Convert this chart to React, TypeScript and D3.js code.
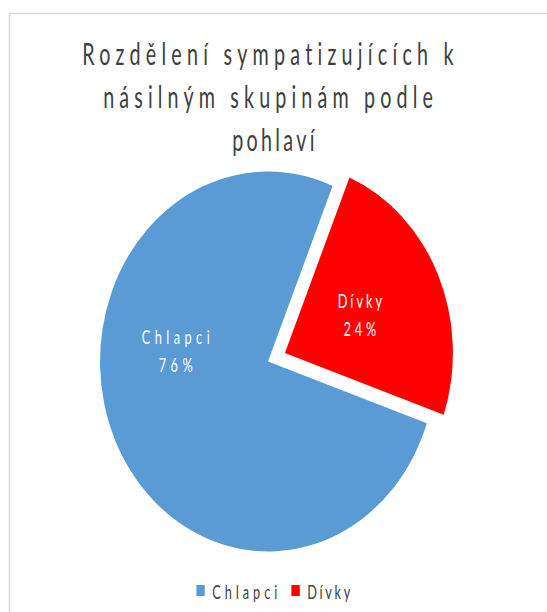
import React from 'react';
import * as d3 from 'd3';

const TITLE_LINES = ['Rozdělení sympatizujících k', 'násilným skupinám podle', 'pohlaví'];
const CATEGORIES = ['Chlapci', 'Dívky'];
const VALUES = [76, 24];
const COLORS = ['#5B9BD5', '#FF0000'];
const EXPLODED = [false, true];

const FONT = 'Lato, "Open Sans", sans-serif';
const NARROW = 0.72; // glyph condensation of the reference text

function SText(props: {
  x: number; y: number; w: number; size: number; fill: string; anchor?: 'start' | 'middle'; children: string;
}) {
  const { x, y, w, size, fill, anchor = 'start', children } = props;
  return (
    <text
      transform={`translate(${x},${y}) scale(${NARROW},1)`}
      textAnchor={anchor}
      fontFamily={FONT}
      fontSize={size}
      fill={fill}
      textLength={w / NARROW}
      lengthAdjust="spacing"
      style={{ fontVariantLigatures: 'none', fontFeatureSettings: '"liga" 0, "clig" 0' }}
    >
      {children}
    </text>
  );
}

export default function App() {
  const W = 547, H = 612;
  const sx = 0.884; // horizontal squeeze of the reference picture
  const cx = 268 / sx;
  const cy = 361.5;
  const R = 190;
  const explode = 21;
  const start = (109 * Math.PI) / 180;

  const pie = d3.pie<number>().sort(null).value((d) => d).startAngle(start).endAngle(start + 2 * Math.PI);
  const arcs = pie(VALUES);
  const arc = d3.arc<d3.PieArcDatum<number>>().innerRadius(0).outerRadius(R);
  const total = d3.sum(VALUES);
  const pct = (v: number) => `${Math.round((v / total) * 100)}%`;

  const titleWidths = [420, 373, 93];
  const titleBaselines = [65, 108, 151];
  const titleShift = [0, 0, 6];

  const labelNameW = [77, 50];
  const labelPctW = [38.5, 37];
  const labelAngleOverride = [(276 * Math.PI) / 180, null];
  const labelR = [105, 93];

  const legendSq = 9.5;
  const legendTextW = [73.5, 48.6];
  const legendGapSq = 18;
  const legendGapItem = 16;
  const legendTotal = legendTextW.reduce((s, w) => s + legendGapSq + w, 0) + legendGapItem;
  let lx = cx - legendTotal / 2 + 6;
  const legendItems = CATEGORIES.map((c, i) => {
    const x = lx;
    lx += legendGapSq + legendTextW[i] + legendGapItem;
    return { c, i, x };
  });
  const legendBase = 599;

  return (
    <svg width={W} height={H} style={{ position: 'absolute', left: 0, top: 0, background: '#fff' }}>
      <rect x={9.5} y={13.5} width={700} height={700} fill="#fff" stroke="#d9d9d9" strokeWidth={1.5} />
      <g transform={`scale(${sx},1)`}>
        {TITLE_LINES.map((t, i) => (
          <SText key={i} x={cx + titleShift[i]} y={titleBaselines[i]} w={titleWidths[i]} size={31}
            fill="#404040" anchor="middle">
            {t}
          </SText>
        ))}
        {arcs.map((a, i) => {
          const mid = (a.startAngle + a.endAngle) / 2;
          const off = EXPLODED[i] ? explode : 0;
          const ox = cx + Math.sin(mid) * off;
          const oy = cy - Math.cos(mid) * off;
          const la = labelAngleOverride[i] ?? mid;
          const lxp = ox + Math.sin(la) * labelR[i];
          const lyp = oy - Math.cos(la) * labelR[i];
          return (
            <g key={i}>
              <path d={arc(a) || ''} transform={`translate(${ox},${oy})`} fill={COLORS[i]} />
              <SText x={lxp} y={lyp - 7} w={labelNameW[i]} size={20} fill="#fff" anchor="middle">
                {CATEGORIES[i]}
              </SText>
              <SText x={lxp} y={lyp + 21} w={labelPctW[i]} size={20} fill="#fff" anchor="middle">
                {pct(VALUES[i])}
              </SText>
            </g>
          );
        })}
        {legendItems.map(({ c, i, x }) => (
          <g key={c}>
            <rect x={x} y={legendBase - 14} width={legendSq} height={11} fill={COLORS[i]} />
            <SText x={x + legendGapSq} y={legendBase} w={legendTextW[i]} size={20} fill="#404040">
              {c}
            </SText>
          </g>
        ))}
      </g>
    </svg>
  );
}
